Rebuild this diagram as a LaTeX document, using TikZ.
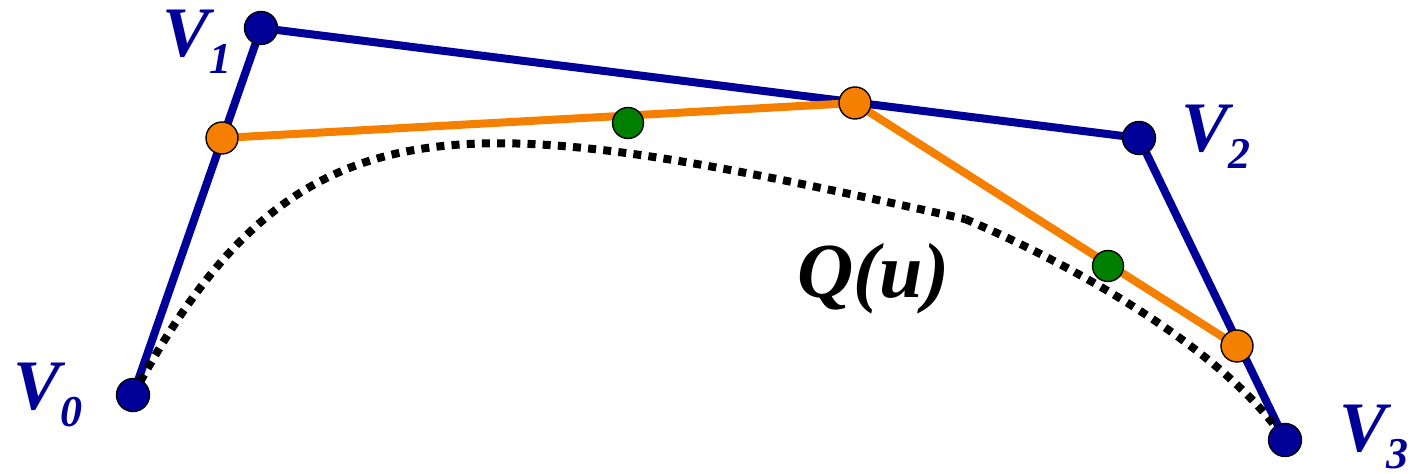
\documentclass[tikz,border=0pt]{standalone}
\usepackage{fontspec}
\setmainfont{Liberation Serif}
\usetikzlibrary{backgrounds}
\definecolor{vblue}{RGB}{0,0,153}
\definecolor{vorange}{RGB}{245,128,0}
\definecolor{vgreen}{RGB}{0,128,0}
\tikzset{
  vpt/.style={circle,draw=black,line width=0.7pt,fill=vblue,minimum size=16.5pt,inner sep=0pt},
  opt/.style={circle,draw=black,line width=0.7pt,fill=vorange,minimum size=16pt,inner sep=0pt},
  gpt/.style={circle,draw=black,line width=0.7pt,fill=vgreen,minimum size=15.5pt,inner sep=0pt},
  polyline/.style={draw=vblue,line width=4pt},
  midline/.style={draw=vorange,line width=4pt},
  curveline/.style={draw=black,line width=4pt,dash pattern=on 4pt off 3.6pt},
  vlabel/.style={text=vblue,anchor=base west,inner sep=0pt,font=\fontsize{35.5}{36}\selectfont\bfseries\itshape},
  qlabel/.style={text=black,anchor=base west,inner sep=0pt,font=\fontsize{39}{40}\selectfont\bfseries\itshape}
}
\newcommand{\vsub}[1]{\raisebox{-8.5pt}{\fontsize{22}{22}\selectfont #1}}
\begin{document}
\begin{tikzpicture}[x=0.5pt,y=-0.5pt]
\useasboundingbox (0,0) rectangle (1412,474);
% control points
\node[vpt] (v0) at (133,395) {};
\node[vpt] (v1) at (261,28) {};
\node[vpt] (v2) at (1139,138) {};
\node[vpt] (v3) at (1285,440) {};
% first level
\node[opt] (a) at (222,138) {};
\node[opt] (b) at (855,103) {};
\node[opt] (c) at (1237,346) {};
% second level
\node[gpt] (d) at (628,123) {};
\node[gpt] (e) at (1108,266) {};
\coordinate (k) at (965,219);
\begin{pgfonlayer}{background}
\draw[polyline] (v0.center) -- (v1.center) -- (v2.center) -- (v3.center);
\draw[curveline] (v0.center) .. controls (300,82) and (465,109) .. (k);
\draw[curveline] (k) .. controls (1065,261) and (1223,347) .. (v3.center);
\draw[midline] (a.center) -- (b.center) -- (c.center);
\end{pgfonlayer}
% labels
\node[vlabel] (l0) at (13,410) {V\vsub{0}};
\node[vlabel] (l1) at (162,57) {V\vsub{1}};
\node[vlabel] (l2) at (1181,152) {V\vsub{2}};
\node[vlabel] (l3) at (1339,452) {V\vsub{3}};
\node[qlabel] (q) at (797,298) {Q(u)};
\end{tikzpicture}
\end{document}
